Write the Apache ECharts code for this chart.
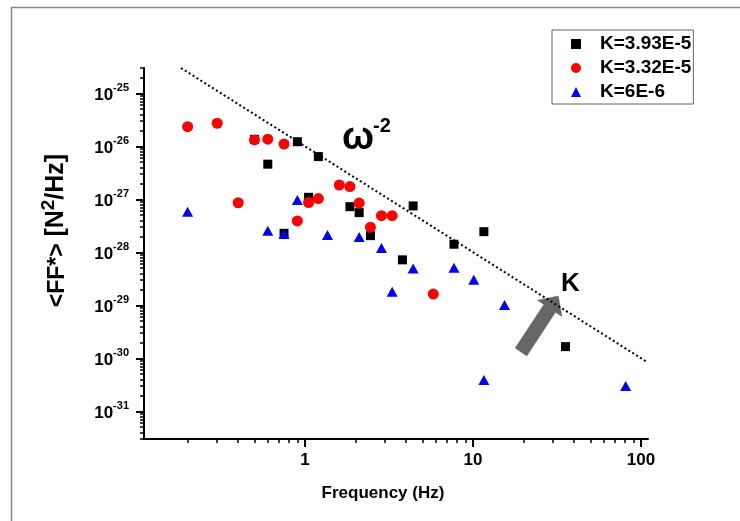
<!DOCTYPE html>
<html>
<head>
<meta charset="utf-8">
<script src="https://cdn.jsdelivr.net/npm/echarts@6/dist/echarts.min.js"></script>
<style>
html,body{margin:0;padding:0;background:#fff;}
#chart{width:740px;height:521px;}
</style>
</head>
<body>
<div id="chart"></div>
<script>
// ---- data (frequency in Hz, <FF*> in N^2/Hz) ----
const seriesNames = ['K=3.93E-5', 'K=3.32E-5', 'K=6E-6'];

const blackK393 = [
  [0.5, 1.35e-26], [0.9, 1.22e-26], [1.2, 6.4e-27], [0.6, 4.6e-27],
  [1.05, 1.09e-27], [1.85, 7.25e-28], [2.1, 5.6e-28], [4.4, 7.5e-28],
  [0.75, 2.28e-28], [2.45, 2.06e-28], [3.8, 7.2e-29], [7.7, 1.42e-28],
  [11.6, 2.45e-28], [35.5, 1.66e-30]
];

const redK332 = [
  [0.2, 2.34e-26], [0.3, 2.72e-26], [0.5, 1.32e-26], [0.6, 1.36e-26],
  [0.75, 1.10e-26], [0.4, 8.6e-28], [1.6, 1.86e-27], [1.85, 1.74e-27],
  [1.2, 1.03e-27], [1.05, 8.7e-28], [2.1, 8.5e-28], [0.9, 3.9e-28],
  [2.85, 4.9e-28], [3.3, 4.9e-28], [2.45, 2.98e-28], [5.8, 1.63e-29]
];

const blueK6 = [
  [0.2, 5.8e-28], [0.6, 2.56e-28], [0.75, 2.21e-28], [0.9, 9.7e-28],
  [1.36, 2.12e-28], [2.1, 1.95e-28], [2.85, 1.21e-28], [3.3, 1.81e-29],
  [4.4, 4.95e-29], [7.7, 5.1e-29], [10.1, 3.04e-29], [11.6, 3.9e-31],
  [15.4, 1.01e-29], [81, 3.0e-31]
];

// omega^-2 guide line end points
const guideLine = [[0.1826, 3e-25], [108, 8.6e-31]];

// axis ticks
const xMajorTicks = [1, 10, 100];
const xTickLabels = ['1', '10', '100'];
const yExponents = [-31, -30, -29, -28, -27, -26, -25];   // tick labels 10^e

const xMin = 0.11, xMax = 110;
const yMin = 3e-32, yMax = 3e-25;

function minorTicks(kFrom, kTo, lo, hi) {
  const out = [];
  for (let k = kFrom; k <= kTo; k++) {
    for (let m = 2; m <= 9; m++) {
      const v = parseFloat(m + 'e' + k);
      if (v >= lo && v <= hi) out.push(v);
    }
  }
  return out;
}
const xMinorTicks = minorTicks(-1, 2, xMin, xMax);
// y ticks live on a helper decade (exponent) axis that is aligned with the log axis
const yMinE = Math.log10(yMin), yMaxE = Math.log10(yMax);
const yMinorTicksE = minorTicks(-32, -25, yMin, yMax).map(v => Math.log10(v));

const FONT = 'Liberation Sans, Arial, sans-serif';

const chart = echarts.init(document.getElementById('chart'));

const axisLineStyle = { color: '#000', width: 2 };
const labelFont = { fontFamily: FONT, fontWeight: 'bold', color: '#000' };

const option = {
  backgroundColor: '#fff',
  animation: false,
  grid: { left: 144, top: 68, width: 504, height: 371, outerBoundsMode: 'none', containLabel: false },
  legend: {
    orient: 'vertical',
    left: 552, top: 30,
    padding: [4.5, 2, 2.5, 19],
    itemWidth: 10, itemHeight: 10, itemGap: 5,
    borderColor: '#666', borderWidth: 1,
    textStyle: { fontFamily: FONT, fontSize: 19, fontWeight: 'bold', color: '#000', lineHeight: 19, padding: [0, 0, 0, 14] },
    data: seriesNames
  },
  xAxis: [
    {
      type: 'log', logBase: 10, min: xMin, max: xMax, gridIndex: 0, position: 'bottom',
      axisLine: { show: true, onZero: false, lineStyle: axisLineStyle },
      axisTick: { show: true, inside: false, length: 8, lineStyle: { color: '#000', width: 2 }, customValues: xMajorTicks },
      axisLabel: Object.assign({
        show: true, margin: 13, customValues: xMajorTicks, fontSize: 17,
        formatter: v => { const i = xMajorTicks.findIndex(t => Math.abs(t - v) / t < 1e-6); return i >= 0 ? xTickLabels[i] : ''; }
      }, labelFont),
      splitLine: { show: false },
      name: 'Frequency (Hz)', nameLocation: 'middle', nameGap: 46,
      nameTextStyle: Object.assign({ fontSize: 17, padding: [0, 26, 0, 0] }, labelFont)
    },
    {
      type: 'log', logBase: 10, min: xMin, max: xMax, gridIndex: 0, position: 'bottom',
      axisLine: { show: false, onZero: false },
      axisTick: { show: true, inside: false, length: 4, lineStyle: { color: '#000', width: 1.5 }, customValues: xMinorTicks },
      axisLabel: { show: false },
      splitLine: { show: false }
    }
  ],
  yAxis: [
    {
      // data axis (log scale of the raw values)
      type: 'log', logBase: 10, min: yMin, max: yMax, gridIndex: 0, position: 'left',
      axisLine: { show: true, onZero: false, lineStyle: axisLineStyle },
      axisTick: { show: false },
      axisLabel: { show: false },
      splitLine: { show: false },
      name: '{a|<FF*>}  {b|[N}{s|2}{b|/Hz]}',
      nameLocation: 'middle', nameGap: 75,
      nameTextStyle: {
        padding: [0, 0, 0, 46],
        rich: {
          a: { fontFamily: FONT, fontSize: 23, fontWeight: 'bold', color: '#000', lineHeight: 30, verticalAlign: 'bottom' },
          b: { fontFamily: FONT, fontSize: 25, fontWeight: 'bold', color: '#000', lineHeight: 30, verticalAlign: 'bottom' },
          s: { fontFamily: FONT, fontSize: 19, fontWeight: 'bold', color: '#000', lineHeight: 19, verticalAlign: 'top' }
        }
      }
    },
    {
      // decade ticks and labels, same span expressed as exponents
      type: 'value', min: yMinE, max: yMaxE, gridIndex: 0, position: 'left',
      axisLine: { show: false, onZero: false },
      axisTick: { show: true, inside: false, length: 8, lineStyle: { color: '#000', width: 2 }, customValues: yExponents },
      axisLabel: {
        show: true, margin: 15, customValues: yExponents,
        formatter: v => '{b|10}{s|' + Math.round(v) + '}',
        rich: {
          b: { fontFamily: FONT, fontSize: 17, fontWeight: 'bold', color: '#000', lineHeight: 22, verticalAlign: 'bottom' },
          s: { fontFamily: FONT, fontSize: 11, fontWeight: 'bold', color: '#000', lineHeight: 11, verticalAlign: 'top' }
        }
      },
      splitLine: { show: false }
    },
    {
      type: 'value', min: yMinE, max: yMaxE, gridIndex: 0, position: 'left',
      axisLine: { show: false, onZero: false },
      axisTick: { show: true, inside: false, length: 4, lineStyle: { color: '#000', width: 1.5 }, customValues: yMinorTicksE },
      axisLabel: { show: false },
      splitLine: { show: false }
    }
  ],
  series: [
    {
      name: 'guide', type: 'line', xAxisIndex: 0, yAxisIndex: 0, data: guideLine,
      symbol: 'none', silent: true,
      lineStyle: { color: '#000', width: 2, type: [2, 2.6] }, z: 1
    },
    {
      name: seriesNames[0], type: 'scatter', xAxisIndex: 0, yAxisIndex: 0, data: blackK393,
      symbol: 'rect', symbolSize: 9, symbolKeepAspect: true, itemStyle: { color: '#000', opacity: 1 }, z: 2
    },
    {
      name: seriesNames[1], type: 'scatter', xAxisIndex: 0, yAxisIndex: 0, data: redK332,
      symbol: 'circle', symbolSize: 11, itemStyle: { color: '#ff0000', opacity: 1 }, z: 3
    },
    {
      name: seriesNames[2], type: 'scatter', xAxisIndex: 0, yAxisIndex: 0, data: blueK6,
      symbol: 'triangle', symbolSize: [11, 10], symbolKeepAspect: true, itemStyle: { color: '#0000ff', opacity: 1 }, z: 4
    }
  ],
  graphic: [
    { type: 'polyline', silent: true, shape: { points: [[11.5, 521], [11.5, 7.5], [740, 7.5]] }, style: { stroke: '#888', lineWidth: 1.5, fill: null } },
    { type: 'text', silent: true, x: 342, y: 139, style: { text: 'ω', fontFamily: FONT, fontSize: 38, fontWeight: 'bold', fill: '#000', align: 'left', verticalAlign: 'middle' } },
    { type: 'text', silent: true, x: 373, y: 126, style: { text: '-2', fontFamily: FONT, fontSize: 20, fontWeight: 'bold', fill: '#000', align: 'left', verticalAlign: 'middle' } },
    { type: 'text', silent: true, x: 570.5, y: 284, style: { text: 'K', fontFamily: FONT, fontSize: 26, fontWeight: 'bold', fill: '#000', align: 'center', verticalAlign: 'middle' } },
    { type: 'polygon', silent: true, shape: { points: [[515.2, 348.1], [543.9, 304.4], [537.5, 300.2], [558.3, 296], [561.9, 316.4], [555.5, 312.2], [526.8, 355.9]] }, style: { fill: '#666', stroke: '#666', lineWidth: 0.5 } }
  ]
};

chart.setOption(option);
</script>
</body>
</html>
